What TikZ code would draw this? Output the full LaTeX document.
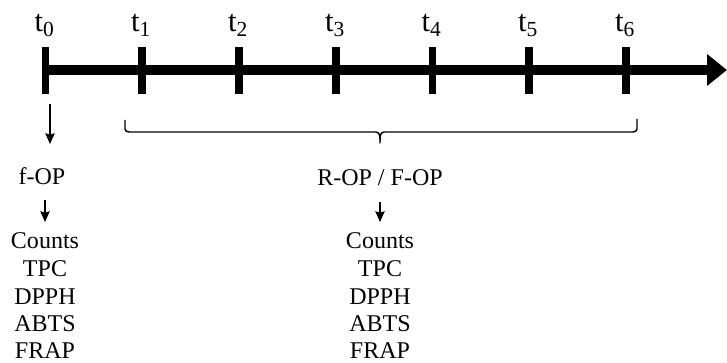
\documentclass[tikz,border=0pt]{standalone}
\usepackage{fontspec}
\setmainfont{Liberation Serif}
\usetikzlibrary{arrows.meta}
\begin{document}
\begin{tikzpicture}[x=0.75pt,y=-0.75pt,
  axis/.style={line width=7.5pt,-{Triangle[length=15pt,width=23pt]}},
  tick/.style={line width=5.6pt},
  tlabel/.style={font=\fontsize{23}{25}\selectfont,inner sep=0pt,anchor=base},
  txt/.style={font=\fontsize{18}{20}\selectfont,inner sep=0pt,anchor=base},
  darr/.style={line width=1.1pt,-{Stealth[length=8pt,width=7pt,inset=1pt]}},
  bracket/.style={line width=1.1pt,line join=round}]
\useasboundingbox (0,0) rectangle (727,363);
% axis
\coordinate (start) at (42,70);
\coordinate (end) at (727,70);
\draw[axis] (start) -- (end);
\foreach \i/\x in {0/45.5,1/142,2/239,3/336,4/432.5,5/529,6/626}{
  \coordinate (tt\i) at (\x,47);
  \coordinate (tb\i) at (\x,94);
  \draw[tick] (tt\i) -- (tb\i);
  \node[tlabel] (t\i) at (\x-1,32) {t\textsubscript{\i}};
}
% brace
\coordinate (bl) at (125,120);
\coordinate (br) at (637,119);
\coordinate (bc) at (380,143);
\draw[bracket] (bl) -- (125,129) to[out=-90,in=180] (129,132) -- (376,132)
  to[out=0,in=90] (bc) to[out=90,in=180] (384,132) -- (633,132)
  to[out=0,in=-90] (637,129) -- (br);
% left column
\coordinate (a0s) at (50,104);
\coordinate (a0e) at (50,144);
\draw[darr] (a0s) -- (a0e);
\node[txt] (fop) at (42,185) {f-OP};
\coordinate (a1s) at (45,200);
\coordinate (a1e) at (45,222);
\draw[darr] (a1s) -- (a1e);
\node[txt] (lc) at (45,248) {Counts};
\node[txt] (lt) at (45,276) {TPC};
\node[txt] (ld) at (45,304) {DPPH};
\node[txt] (la) at (45,331.5) {ABTS};
\node[txt] (lf) at (45,358.5) {FRAP};
% right column
\node[txt] (rop) at (380,186) {R-OP / F-OP};
\coordinate (a2s) at (380,202);
\coordinate (a2e) at (380,222);
\draw[darr] (a2s) -- (a2e);
\node[txt] (rc) at (380,248) {Counts};
\node[txt] (rt) at (380,276) {TPC};
\node[txt] (rd) at (380,304) {DPPH};
\node[txt] (ra) at (380,331.5) {ABTS};
\node[txt] (rf) at (380,358.5) {FRAP};
\end{tikzpicture}
\end{document}
